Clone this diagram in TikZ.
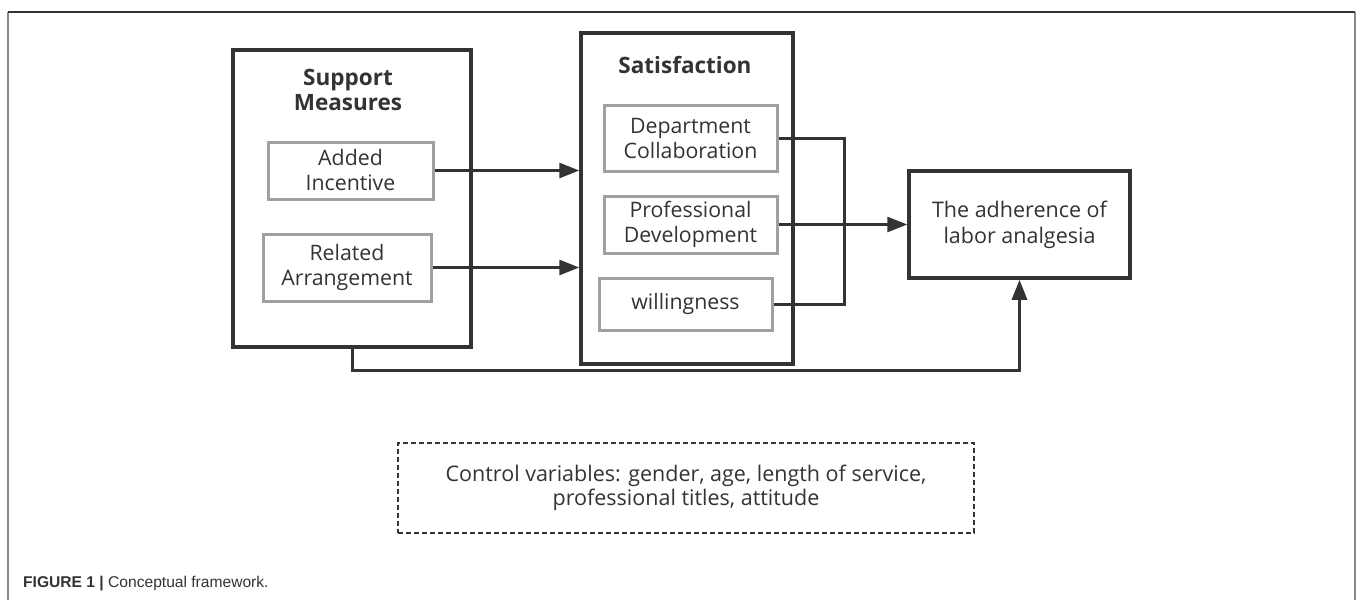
\documentclass[tikz,border=0pt]{standalone}
\usepackage{fontspec}
\setmainfont{Open Sans}
\newfontfamily\capfont{Liberation Sans}
\usetikzlibrary{arrows.meta}
\definecolor{ink}{HTML}{333333}
\definecolor{inner}{HTML}{A0A0A0}
\definecolor{framegray}{HTML}{8A8A8A}
\tikzset{
  x=1pt, y=-1pt,
  outerbox/.style={draw=ink, line width=3.5pt, rectangle, inner sep=0pt},
  innerbox/.style={draw=inner, line width=3pt, rectangle, inner sep=0pt, align=center, text=ink,
     font=\fontsize{21.3}{25}\selectfont},
  titletext/.style={align=center, text=ink, font=\fontsize{22.5}{25}\selectfont\bfseries},
  conn/.style={draw=ink, line width=3pt},
  arr/.style={conn, -{Triangle[length=20pt,width=15pt]}},
}
\begin{document}
\begin{tikzpicture}
\useasboundingbox (0,0) rectangle (1357,600);
% figure frame
\draw[framegray, line width=2pt] (8,600) -- (8,12);
\draw[framegray, line width=2pt] (1355,12) -- (1355,600);
\draw[ink, line width=1.8pt] (8,12) -- (1355,12);

% Support measures
\node[outerbox, minimum width=238pt, minimum height=297pt] (sup) at (352,198.5) {};
\node[titletext] (suptitle) at (348,90) {Support\\Measures};
\node[innerbox, minimum width=165pt, minimum height=57pt] (added) at (350.5,170.5) {Added\\Incentive};
\node[innerbox, minimum width=168pt, minimum height=67pt] (related) at (347,267.5) {Related\\Arrangement};

% Satisfaction
\node[outerbox, minimum width=212pt, minimum height=331pt] (sat) at (687,198.5) {};
\node[titletext] (sattitle) at (685,65) {Satisfaction};
\node[innerbox, minimum width=173pt, minimum height=66pt] (dept) at (690.5,138) {Department\\Collaboration};
\node[innerbox, minimum width=173pt, minimum height=57pt] (prof) at (690.5,224.5) {Professional\\Development};
\node[innerbox, minimum width=173pt, minimum height=52pt] (will) at (685.5,304) {willingness};

% Outcome
\node[outerbox, minimum width=221pt, minimum height=107pt, align=center, text=ink,
      font=\fontsize{21.5}{26}\selectfont] (adh) at (1019.5,224.5) {The adherence of\\labor analgesia};

% Control variables
\node[draw=ink, dashed, dash pattern=on 5pt off 3pt, line width=1.5pt, minimum width=576pt, minimum height=90pt,
      align=center, text=ink, font=\fontsize{21.5}{24}\selectfont] (ctrl) at (686,488)
      {Control variables: gender, age, length of service,\\professional titles, attitude};

% Caption
\node[anchor=west, inner sep=0pt, text=ink, font=\capfont\fontsize{15.6}{18}\selectfont] (cap) at (23,584)
      {\textbf{FIGURE 1 |} Conceptual framework.};

% connectors
\coordinate (bend) at (844,0);
\coordinate (low) at (0,370);
\draw[arr] (added.east) -- (added.east -| sat.west);
\draw[arr] (related.east) -- (related.east -| sat.west);
\draw[conn] (dept.east) -- (dept.east -| bend) -- (will.east -| bend) -- (will.east);
\draw[arr] (prof.east) -- (adh.west);
\draw[arr] (sup.south) -- (sup.south |- low) -| (adh.south);
\end{tikzpicture}
\end{document}
